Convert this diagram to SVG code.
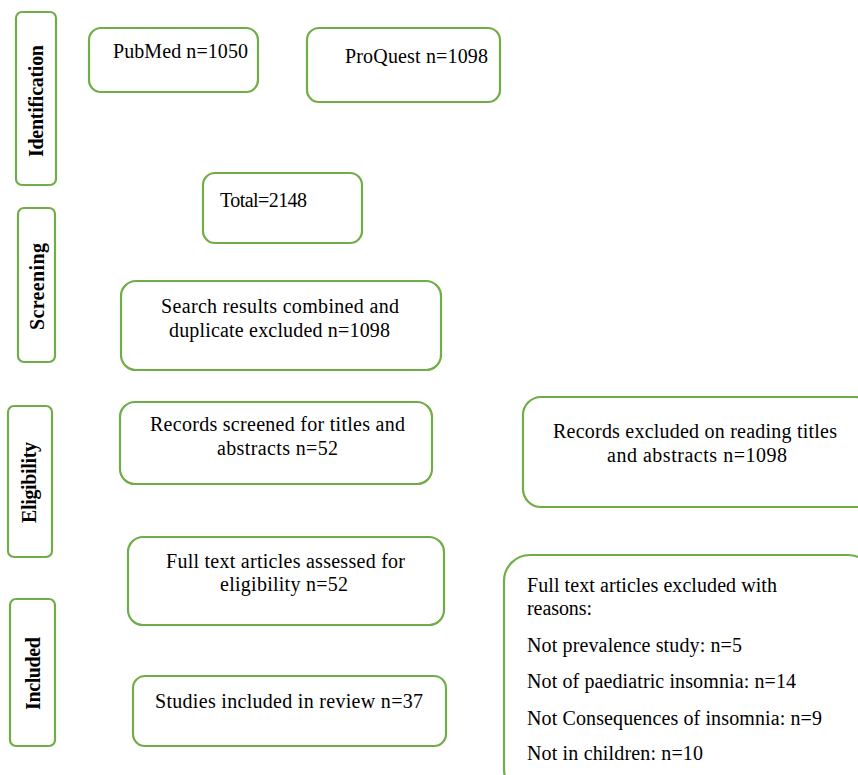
<svg xmlns="http://www.w3.org/2000/svg" width="858" height="775" viewBox="0 0 858 775">
<style>
.b{fill:#fff;stroke:#70AD47;stroke-width:2.2}
text{font-size:20px;fill:#000}
.s{font-weight:bold}
</style>
<rect width="858" height="775" fill="#fff"/>
<g font-family="'Liberation Serif', 'DejaVu Serif', serif" lengthAdjust="spacing">
<g id="stage-identification"><rect class="b" x="16" y="12" width="40" height="173" rx="6"/><text class="s" transform="translate(43,157) rotate(-90)" textLength="112" lengthAdjust="spacing">Identification</text></g>
<g id="stage-screening"><rect class="b" x="18" y="208" width="37" height="154" rx="6"/><text class="s" transform="translate(44,330) rotate(-90)" textLength="87" lengthAdjust="spacing">Screening</text></g>
<g id="stage-eligibility"><rect class="b" x="8" y="406" width="44" height="151" rx="6"/><text class="s" transform="translate(36,523) rotate(-90)" textLength="81" lengthAdjust="spacing">Eligibility</text></g>
<g id="stage-included"><rect class="b" x="10" y="599" width="45" height="147" rx="6"/><text class="s" transform="translate(40,710) rotate(-90)" textLength="73" lengthAdjust="spacing">Included</text></g>

<g id="pubmed"><rect class="b" x="89" y="28" width="169" height="64" rx="12"/><text x="113" y="58" textLength="135" lengthAdjust="spacing">PubMed n=1050</text></g>
<g id="proquest"><rect class="b" x="307" y="28" width="193" height="74" rx="12"/><text x="345" y="63" textLength="143" lengthAdjust="spacing">ProQuest n=1098</text></g>
<g id="total"><rect class="b" x="203" y="173" width="159" height="70" rx="12"/><text x="220" y="207" textLength="87" lengthAdjust="spacing">Total=2148</text></g>
<g id="combined"><rect class="b" x="121" y="281" width="320" height="89" rx="15"/><text x="161" y="313" textLength="238" lengthAdjust="spacing">Search results combined and</text><text x="169" y="337" textLength="221" lengthAdjust="spacing">duplicate excluded n=1098</text></g>
<g id="screened"><rect class="b" x="120" y="402" width="312" height="82" rx="15"/><text x="150" y="431" textLength="255" lengthAdjust="spacing">Records screened for titles and</text><text x="217" y="455" textLength="121" lengthAdjust="spacing">abstracts n=52</text></g>
<g id="assessed"><rect class="b" x="128" y="537" width="316" height="88" rx="15"/><text x="166" y="568" textLength="239" lengthAdjust="spacing">Full text articles assessed for</text><text x="220" y="591" textLength="128" lengthAdjust="spacing">eligibility n=52</text></g>
<g id="included"><rect class="b" x="133" y="676" width="313" height="70" rx="12"/><text x="155" y="708" textLength="268" lengthAdjust="spacing">Studies included in review n=37</text></g>
<g id="excluded-titles"><rect class="b" x="523" y="397" width="350" height="110" rx="18"/><text x="553" y="438" textLength="284" lengthAdjust="spacing">Records excluded on reading titles</text><text x="607" y="462" textLength="180" lengthAdjust="spacing">and abstracts n=1098</text></g>
<g id="excluded-fulltext"><rect class="b" x="504" y="555" width="370" height="240" rx="26"/>
<text x="527" y="592" textLength="250" lengthAdjust="spacing">Full text articles excluded with</text>
<text x="527" y="615" textLength="65" lengthAdjust="spacing">reasons:</text>
<text x="527" y="652" textLength="215" lengthAdjust="spacing">Not prevalence study: n=5</text>
<text x="527" y="688" textLength="269" lengthAdjust="spacing">Not of paediatric insomnia: n=14</text>
<text x="527" y="725" textLength="295" lengthAdjust="spacing">Not Consequences of insomnia: n=9</text>
<text x="527" y="760" textLength="176" lengthAdjust="spacing">Not in children: n=10</text></g>
</g>
<g id="connectors"></g>
</svg>
